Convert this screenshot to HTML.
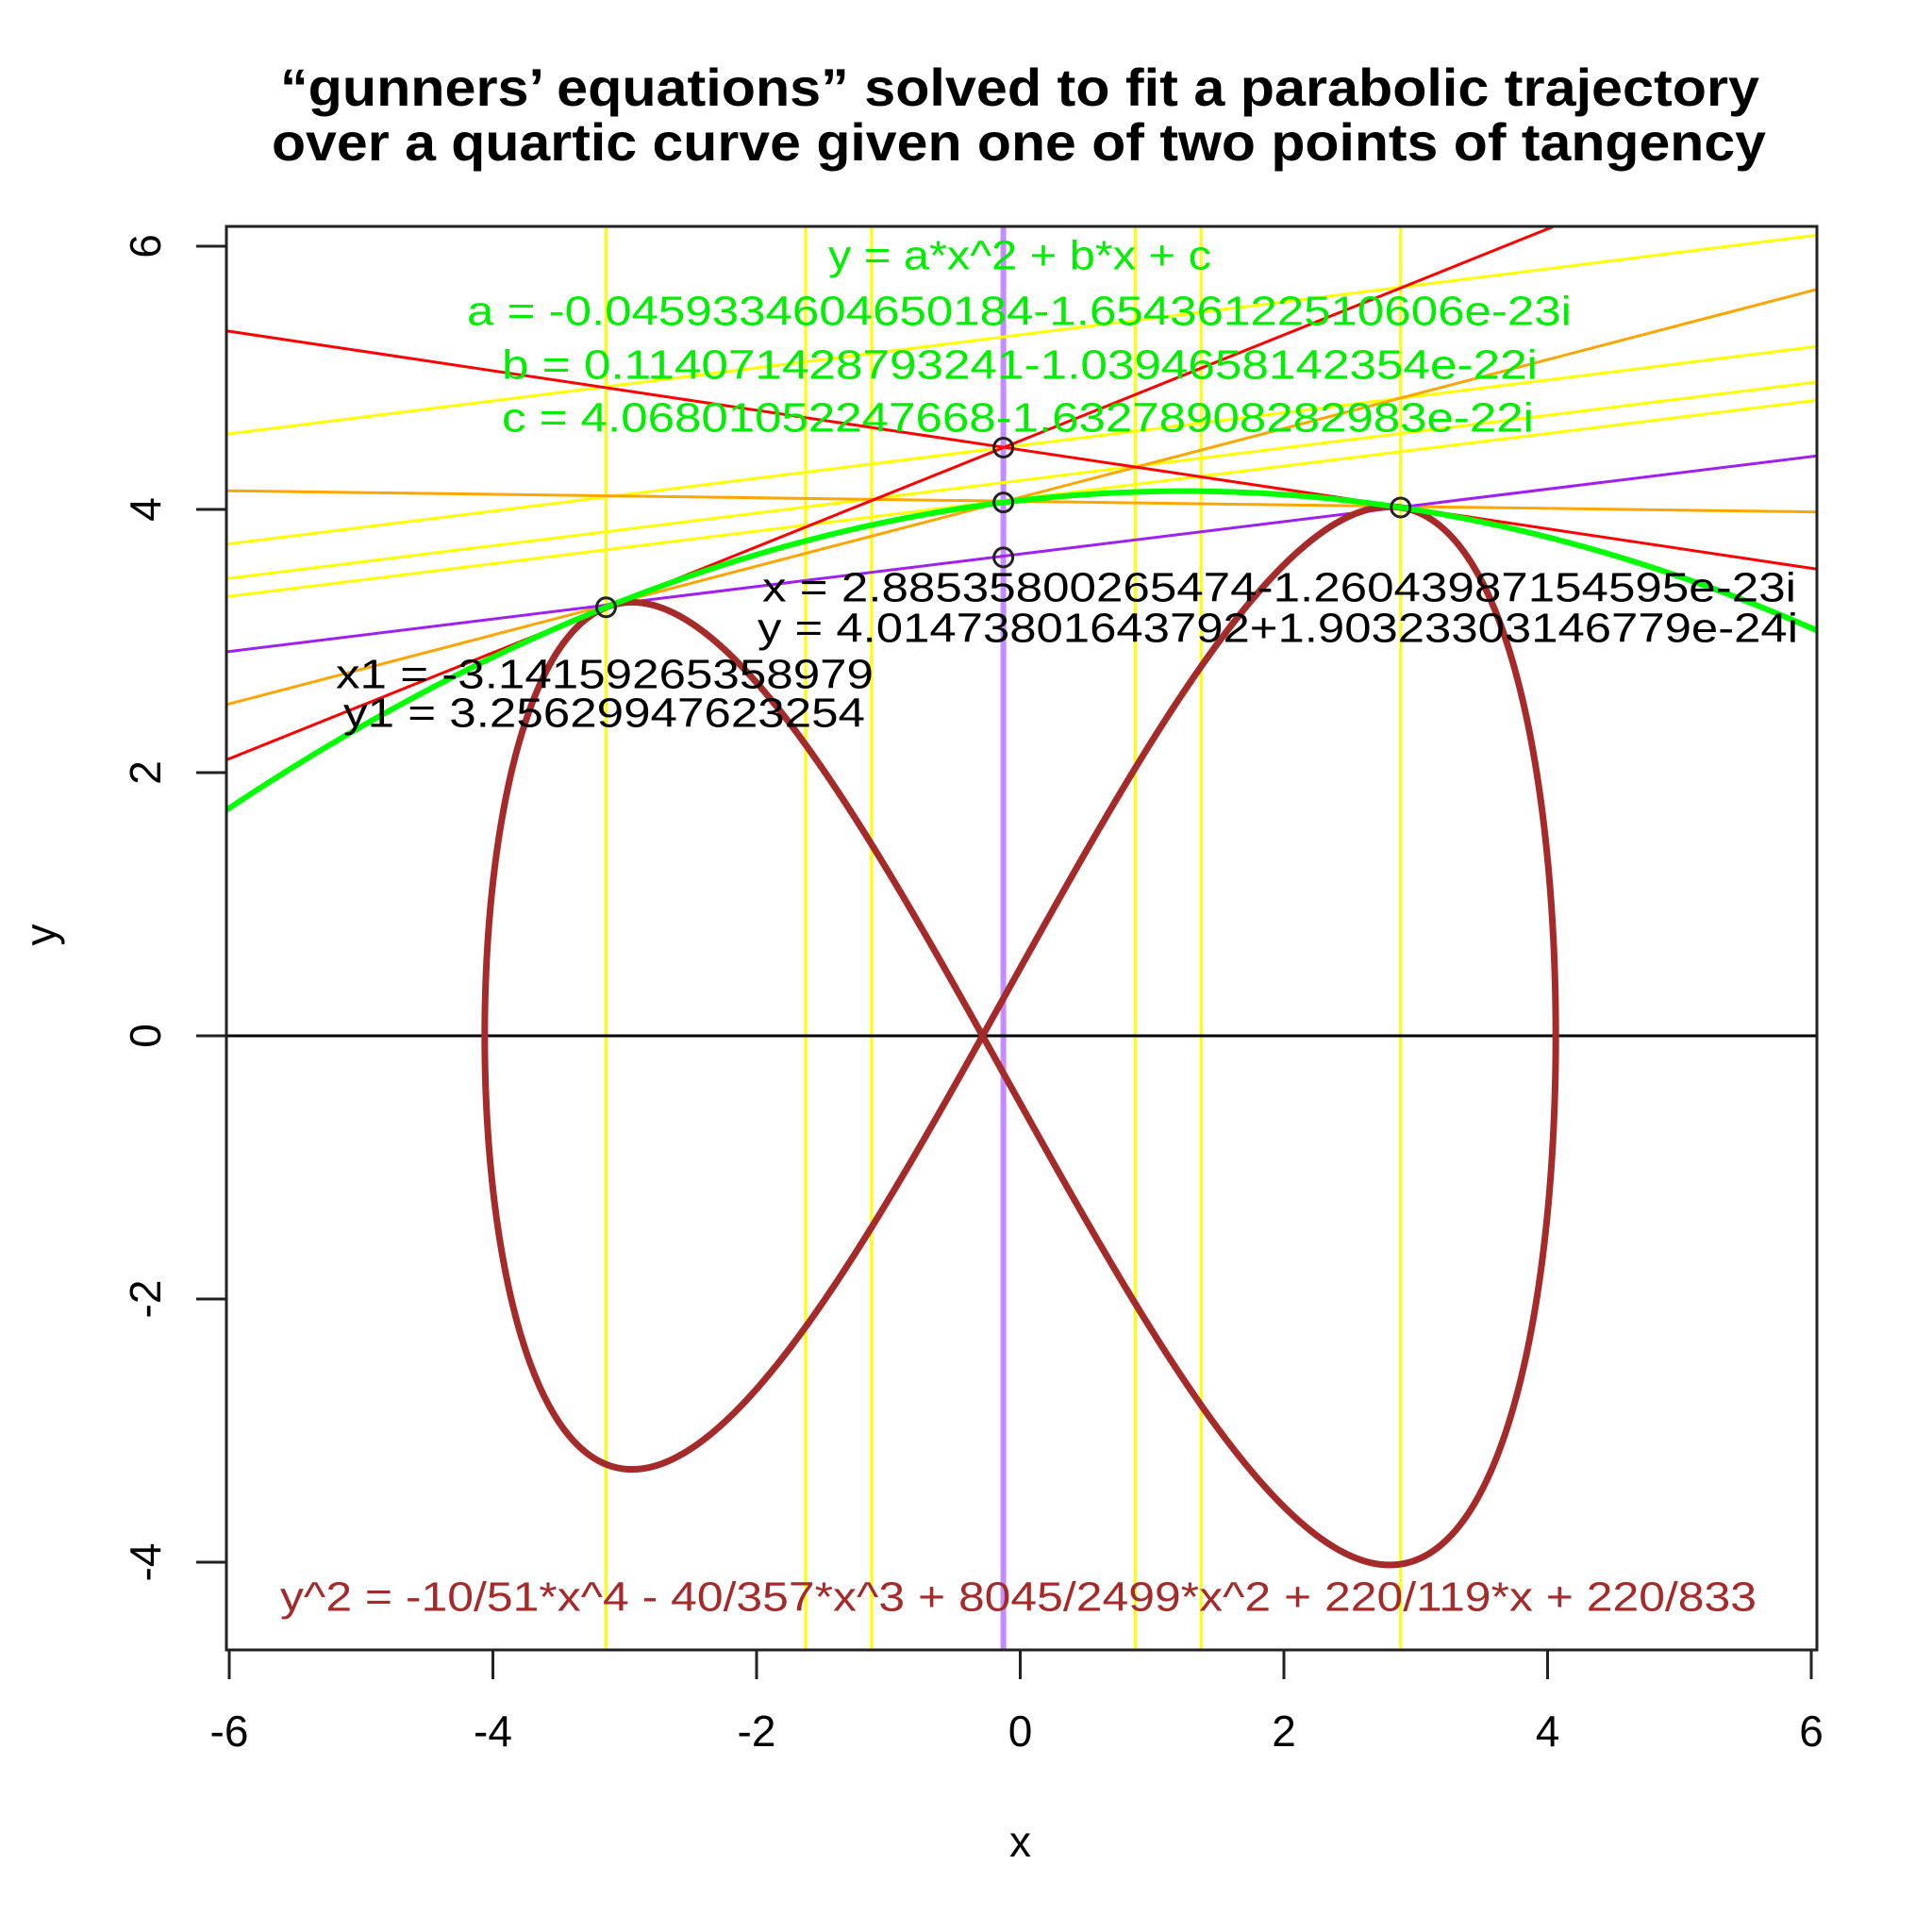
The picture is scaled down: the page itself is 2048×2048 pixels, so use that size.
<!DOCTYPE html>
<html><head><meta charset="utf-8"><style>
html,body{margin:0;padding:0;background:#fff;}
svg{display:block;}
text{font-family:"Liberation Sans",sans-serif;}
</style></head><body>
<svg id="s" width="2048" height="2048" viewBox="0 0 2048 2048" xmlns="http://www.w3.org/2000/svg">
<defs><clipPath id="c"><rect x="240" y="240" width="1686" height="1509"/></clipPath></defs>
<rect width="2048" height="2048" fill="#fff"/>
<text x="297" y="112" font-size="56" font-weight="bold" textLength="1568" lengthAdjust="spacingAndGlyphs">“gunners’ equations” solved to fit a parabolic trajectory</text>
<text x="288" y="170" font-size="56" font-weight="bold" textLength="1584" lengthAdjust="spacingAndGlyphs">over a quartic curve given one of two points of tangency</text>
<g id="plot" clip-path="url(#c)" fill="none"></g>
<g fill="none" stroke="#222" stroke-width="3">
<rect x="240" y="240" width="1686" height="1509"/>
<path d="M208 261H240M208 540H240M208 819H240M208 1098H240M208 1377H240M208 1656H240"/>
<path d="M243 1749V1780M522.5 1749V1780M802 1749V1780M1081.5 1749V1780M1361 1749V1780M1640.5 1749V1780M1920 1749V1780"/>
</g>
<g font-size="46" text-anchor="middle" dominant-baseline="central">
<text transform="translate(154,261) rotate(-90)">6</text>
<text transform="translate(154,540) rotate(-90)">4</text>
<text transform="translate(154,819) rotate(-90)">2</text>
<text transform="translate(154,1098) rotate(-90)">0</text>
<text transform="translate(154,1377) rotate(-90)">-2</text>
<text transform="translate(154,1656) rotate(-90)">-4</text>
<text x="243" y="1835">-6</text><text x="522.5" y="1835">-4</text><text x="802" y="1835">-2</text>
<text x="1081.5" y="1835">0</text><text x="1361" y="1835">2</text><text x="1640.5" y="1835">4</text><text x="1920" y="1835">6</text>
<text x="1081.5" y="1952">x</text>
<text transform="translate(43,991) rotate(-90)">y</text>
</g>
<g font-size="44" dominant-baseline="central" fill="#00ee00">
<text x="878" y="271" textLength="406" lengthAdjust="spacingAndGlyphs">y = a*x^2 + b*x + c</text>
<text x="495" y="330" textLength="1171" lengthAdjust="spacingAndGlyphs">a =  -0.0459334604650184-1.65436122510606e-23i</text>
<text x="532" y="387" textLength="1098" lengthAdjust="spacingAndGlyphs">b =  0.114071428793241-1.0394658142354e-22i</text>
<text x="532" y="443" textLength="1094" lengthAdjust="spacingAndGlyphs">c =  4.06801052247668-1.63278908282983e-22i</text>
</g>
<g font-size="44" dominant-baseline="central" fill="#000">
<text x="808" y="623" textLength="1096" lengthAdjust="spacingAndGlyphs">x =  2.88535800265474-1.26043987154595e-23i</text>
<text x="803" y="666" textLength="1103" lengthAdjust="spacingAndGlyphs">y =  4.01473801643792+1.90323303146779e-24i</text>
<text x="356" y="715" textLength="570" lengthAdjust="spacingAndGlyphs">x1 =  -3.14159265358979</text>
<text x="364" y="756" textLength="553" lengthAdjust="spacingAndGlyphs">y1 =  3.25629947623254</text>
</g>
<text x="297" y="1693" font-size="44" dominant-baseline="central" fill="#a52a2a" textLength="1565" lengthAdjust="spacingAndGlyphs">y^2 = -10/51*x^4 - 40/357*x^3 + 8045/2499*x^2 + 220/119*x + 220/833</text>
</svg>
<script>
(function(){
var NS="http://www.w3.org/2000/svg",g=document.getElementById("plot");
function X(x){return 1081.5+139.75*x;}
function Y(y){return 1098-139.5*y;}
function add(tag,attrs){var e=document.createElementNS(NS,tag);for(var k in attrs)e.setAttribute(k,attrs[k]);g.appendChild(e);return e;}
function L(x1,y1,x2,y2,c,w){add("line",{x1:x1,y1:y1,x2:x2,y2:y2,stroke:c,"stroke-width":w});}
var m=-0.128,W=3;
[-3.0136,-1.5,-1.0,1.0,1.5,3.0136].forEach(function(d){var px=X(m+d);L(px,240,px,1749,"#ffff00",W);});
L(X(m),240,X(m),1749,"#c58cff",6);
L(240,1098,1926,1098,"#000",W);
L(240,460.3,1926,249.3,"#ffff00",W);
L(240,576.9,1926,367.3,"#ffff00",W);
L(240,613.4,1926,405,"#ffff00",W);
L(240,632.5,1926,424.3,"#ffff00",W);
L(240,746.9,1926,306.7,"#ffa500",W);
L(240,520.2,1926,542.7,"#ffa500",W);
L(240,691,1926,483.3,"#a020f0",W);
L(240,350.7,1926,603.3,"#ff0000",W);
L(X(-6.1),Y(3.2563+0.4026*(-6.1+3.1416)),X(6.1),Y(3.2563+0.4026*(6.1+3.1416)),"#ff0000",W);
function f(x){return -10/51*Math.pow(x,4)-40/357*Math.pow(x,3)+8045/2499*x*x+220/119*x+220/833;}
function root(a,b){for(var i=0;i<80;i++){var c=(a+b)/2;if((f(a)>=0)===(f(c)>=0))a=c;else b=c;}return (a+b)/2;}
var r1=root(-5,-3.5),r2=root(3.5,5);
var up=[],lo=[],N=3000;
for(var i=0;i<=N;i++){var t=i/N;var x=(r1+r2)/2-(r2-r1)/2*Math.cos(Math.PI*t);var v=Math.sqrt(Math.max(0,f(x)));up.push(X(x).toFixed(2)+" "+Y(v).toFixed(2));lo.push(X(x).toFixed(2)+" "+Y(-v).toFixed(2));}
lo.reverse();
add("path",{d:"M"+up.join("L")+"L"+lo.join("L")+"Z",stroke:"#a52a2a","stroke-width":7,"stroke-linejoin":"round"});
var a=-0.0459334604650184,b=0.11407142879324,c=4.06801052247668,pp=[];
for(var x=-6.1;x<=6.1;x+=0.02){pp.push(X(x).toFixed(2)+" "+Y(a*x*x+b*x+c).toFixed(2));}
add("path",{d:"M"+pp.join("L"),stroke:"#00ff00","stroke-width":6});
[[-3.14159,3.2563],[2.88536,4.01474],[m,4.4697],[m,a*m*m+b*m+c],[m,3.6355]].forEach(function(p){add("circle",{cx:X(p[0]),cy:Y(p[1]),r:10,stroke:"#222","stroke-width":3});});
})();
</script>
</body></html>
